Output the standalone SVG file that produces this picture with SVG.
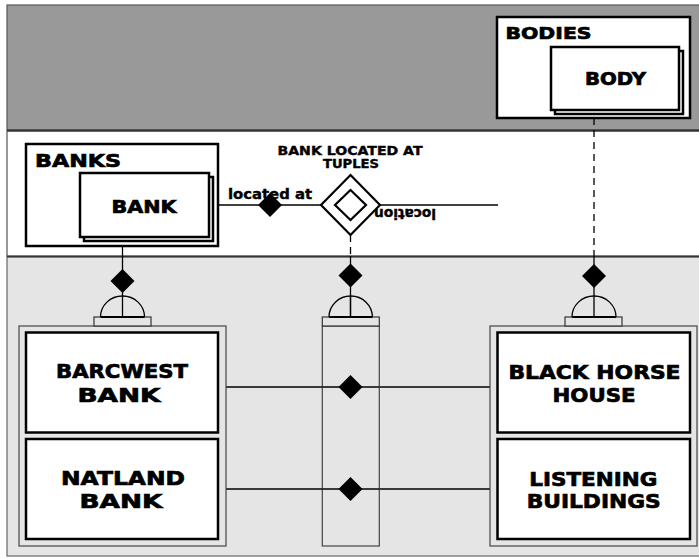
<svg xmlns="http://www.w3.org/2000/svg" width="699" height="558" viewBox="0 0 699 558">
  <style>
    .lbl { font-family: "DejaVu Sans", "Liberation Sans", sans-serif; font-weight: bold; fill: #000; stroke: #000; stroke-width: 0.7; }
    .sm { stroke-width: 0.4; }
    .box { fill: #fff; stroke: #000; stroke-width: 2.5; }
    .frame { fill: #e5e5e5; stroke: #444; stroke-width: 1.2; }
    .cap { fill: #e5e5e5; stroke: #333; stroke-width: 1.2; }
    .conn { stroke: #000; stroke-width: 1.3; fill: none; }
    .dash { stroke: #000; stroke-width: 1.3; fill: none; stroke-dasharray: 7 5; }
    .dot { fill: #000; }
  </style>
  <defs>
    <path id="dmd" d="M0,-12 L12,0 L0,12 L-12,0 Z"/>
  </defs>

  <!-- bands -->
  <g id="bands">
    <rect x="7" y="5" width="710" height="125" fill="#999" stroke="#555" stroke-width="1.2"/>
    <rect x="7" y="131" width="710" height="125" fill="#fff" stroke="#555" stroke-width="1.2"/>
    <rect x="7" y="257" width="710" height="299" fill="#e5e5e5" stroke="#666" stroke-width="1.2"/>
    <line x1="7" y1="130.5" x2="699" y2="130.5" stroke="#333" stroke-width="2"/>
    <line x1="7" y1="256.5" x2="699" y2="256.5" stroke="#333" stroke-width="1.6"/>
  </g>

  <!-- connectors -->
  <g id="connectors">
    <line class="conn" x1="209" y1="205" x2="322" y2="205"/>
    <use href="#dmd" class="dot" x="270" y="205"/>
    <line class="conn" x1="380" y1="205" x2="498" y2="205"/>

    <!-- left subtype link -->
    <line class="conn" x1="122.5" y1="246" x2="122.5" y2="317"/>
    <use href="#dmd" class="dot" x="122.5" y="281"/>

    <!-- centre link -->
    <line class="dash" x1="350.5" y1="235" x2="350.5" y2="256" stroke-dasharray="0 8 13"/>
    <line class="conn" x1="350.5" y1="256" x2="350.5" y2="317"/>
    <use href="#dmd" class="dot" x="350.5" y="275.5"/>

    <!-- right link -->
    <line class="dash" x1="594" y1="118" x2="594" y2="256"/>
    <line class="conn" x1="594" y1="256" x2="594" y2="317"/>
    <use href="#dmd" class="dot" x="594" y="276"/>

    <!-- tuple rows -->
    <line class="conn" x1="218" y1="387" x2="497" y2="387"/>
    <use href="#dmd" class="dot" x="350.5" y="387"/>
    <line class="conn" x1="218" y1="489" x2="497" y2="489"/>
    <use href="#dmd" class="dot" x="350.5" y="489"/>

    <text class="lbl sm" x="228" y="199" font-size="14" textLength="84" lengthAdjust="spacingAndGlyphs">located at</text>
    <text class="lbl sm" x="436" y="209" font-size="14" transform="rotate(180 436 209)" textLength="62" lengthAdjust="spacingAndGlyphs">location</text>
  </g>

  <!-- BODIES set with BODY -->
  <g id="bodies">
    <rect class="box" x="497" y="17" width="193" height="101"/>
    <text class="lbl" x="505.5" y="39.3" font-size="16.5" textLength="86" lengthAdjust="spacingAndGlyphs">BODIES</text>
  </g>
  <g id="body">
    <rect class="box" x="555" y="51" width="128" height="63" stroke-width="2"/>
    <rect class="box" x="551" y="47" width="128" height="63" stroke-width="2"/>
    <text class="lbl" x="615.5" y="85.3" font-size="17" text-anchor="middle" textLength="61" lengthAdjust="spacingAndGlyphs">BODY</text>
  </g>

  <!-- BANKS set with BANK -->
  <g id="banks">
    <rect class="box" x="26" y="144" width="192" height="102"/>
    <text class="lbl" x="35" y="166.7" font-size="18" textLength="86" lengthAdjust="spacingAndGlyphs">BANKS</text>
  </g>
  <g id="bank">
    <rect class="box" x="84" y="177" width="129" height="64" stroke-width="2"/>
    <rect class="box" x="80" y="173" width="129" height="64" stroke-width="2"/>
    <text class="lbl" x="144" y="212.7" font-size="17" text-anchor="middle" textLength="65" lengthAdjust="spacingAndGlyphs">BANK</text>
  </g>

  <!-- association: bank located at -->
  <g id="bank-located-at">
    <path d="M350.5,175 L380,205 L350.5,235 L321,205 Z" fill="#fff" stroke="#000" stroke-width="2.2"/>
    <path d="M350.5,190 L366,205 L350.5,220 L335,205 Z" fill="#fff" stroke="#000" stroke-width="2.2"/>
    <text class="lbl sm" x="350" y="155" font-size="12" text-anchor="middle" textLength="145" lengthAdjust="spacingAndGlyphs">BANK LOCATED AT</text>
    <text class="lbl sm" x="351" y="168" font-size="12" text-anchor="middle" textLength="56" lengthAdjust="spacingAndGlyphs">TUPLES</text>
  </g>

  <!-- bank instances -->
  <g id="bank-instances">
    <rect class="frame" x="19" y="326" width="207" height="220"/>
    <rect class="cap" x="94" y="317" width="57" height="9"/>
    <path class="conn" d="M100.5,317 A22,21 0 0 1 144.5,317"/>
    <line x1="100.5" y1="317" x2="144.5" y2="317" stroke="#000" stroke-width="2.2"/>
  </g>
  <g id="barcwest-bank">
    <rect class="box" x="26" y="332.5" width="192" height="100"/>
    <text class="lbl" x="122" y="378.3" font-size="19" text-anchor="middle" textLength="132" lengthAdjust="spacingAndGlyphs">BARCWEST</text>
    <text class="lbl" x="119" y="401.7" font-size="19" text-anchor="middle" textLength="83" lengthAdjust="spacingAndGlyphs">BANK</text>
  </g>
  <g id="natland-bank">
    <rect class="box" x="26" y="439" width="192" height="100"/>
    <text class="lbl" x="123" y="485" font-size="19" text-anchor="middle" textLength="124" lengthAdjust="spacingAndGlyphs">NATLAND</text>
    <text class="lbl" x="121" y="508.3" font-size="19" text-anchor="middle" textLength="83" lengthAdjust="spacingAndGlyphs">BANK</text>
  </g>

  <!-- tuple column -->
  <g id="tuples-column">
    <rect class="frame" x="322.3" y="326" width="57" height="220"/>
    <rect class="cap" x="322.3" y="317" width="57" height="9"/>
    <path class="conn" d="M329,317 A21.7,21 0 0 1 372.4,317"/>
    <line x1="329" y1="317" x2="372.4" y2="317" stroke="#000" stroke-width="2.2"/>
    <line class="conn" x1="350.5" y1="296" x2="350.5" y2="317"/>
    <line class="conn" x1="322.3" y1="387" x2="379.3" y2="387"/>
    <use href="#dmd" class="dot" x="350.5" y="387"/>
    <line class="conn" x1="322.3" y1="489" x2="379.3" y2="489"/>
    <use href="#dmd" class="dot" x="350.5" y="489"/>
  </g>

  <!-- body instances -->
  <g id="body-instances">
    <rect class="frame" x="490" y="326" width="207" height="220"/>
    <rect class="cap" x="565" y="317" width="57" height="9"/>
    <path class="conn" d="M572,317 A22,21 0 0 1 616,317"/>
    <line x1="572" y1="317" x2="616" y2="317" stroke="#000" stroke-width="2.2"/>
  </g>
  <g id="black-horse-house">
    <rect class="box" x="497.5" y="332.5" width="192.5" height="100"/>
    <text class="lbl" x="594.5" y="379.3" font-size="19" text-anchor="middle" textLength="172" lengthAdjust="spacingAndGlyphs">BLACK HORSE</text>
    <text class="lbl" x="594" y="401.7" font-size="19" text-anchor="middle" textLength="83" lengthAdjust="spacingAndGlyphs">HOUSE</text>
  </g>
  <g id="listening-buildings">
    <rect class="box" x="497.5" y="439" width="192.5" height="100"/>
    <text class="lbl" x="593.3" y="485.7" font-size="19" text-anchor="middle" textLength="128" lengthAdjust="spacingAndGlyphs">LISTENING</text>
    <text class="lbl" x="593.7" y="508.3" font-size="19" text-anchor="middle" textLength="134" lengthAdjust="spacingAndGlyphs">BUILDINGS</text>
  </g>
</svg>
